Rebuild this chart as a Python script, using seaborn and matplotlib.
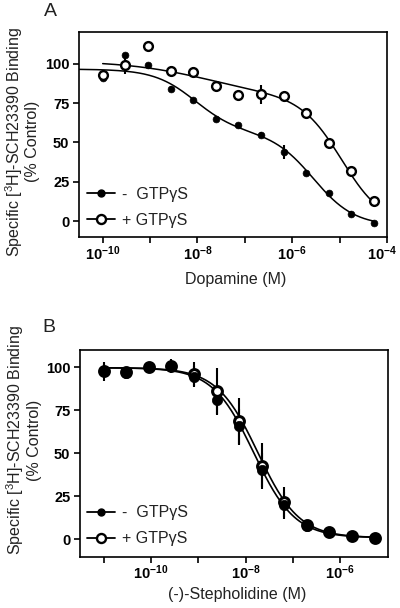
import numpy as np
import pandas as pd
import matplotlib
matplotlib.use("Agg")
import matplotlib.pyplot as plt
import matplotlib.transforms as mtransforms
import seaborn as sns
from matplotlib.lines import Line2D

# ---------------- data ----------------
# Panel A: Dopamine competition
dopamine_M = [1e-10, 3e-10, 9e-10, 2.7e-9, 8.1e-9, 2.43e-8, 7.29e-8,
              2.187e-7, 6.561e-7, 1.968e-6, 5.905e-6, 1.771e-5, 5.314e-5]
a_minus = [91, 105.5, 99, 84, 77, 65, 61, 55, 44, 30.7, 17.8, 4.7, -1.3]
a_minus_err = [1.5, 1.5, 1.5, 1.5, 1.5, 1.5, 1.5, 1.5, 4.5, 1.5, 1.5, 1.5, 1.5]
a_plus = [93, 99.2, 111.4, 95.4, 94.9, 85.8, 80.3, 80.5, 79.7, 68.5, 49.7, 31.7, 13.1]
a_plus_err = [1.5, 5.5, 1.5, 3, 3, 2, 2, 6, 2, 2, 2, 2, 2]

# two-site fit parameters: top, bottom, fraction high, logIC high, nH high, logIC low, nH low
a_minus_fit = [96.5, -3.0, 0.40, -8.05, 1.0, -5.55, 1.0]
a_plus_fit = [101.7, -3.0, 0.22, -7.8, 0.5, -4.95, 1.0]
a_minus_range = [10 ** -10.5, 5.314e-5]
a_plus_range = [1e-10, 5.314e-5]

# Panel B: (-)-Stepholidine competition
steph_M = [1e-11, 3e-11, 9e-11, 2.7e-10, 8.1e-10, 2.43e-9, 7.29e-9,
           2.187e-8, 6.561e-8, 1.968e-7, 5.905e-7, 1.771e-6, 5.314e-6]
b_minus = [97.5, 96.5, 100, 100.5, 94.5, 81, 65.6, 40.3, 19.8, 8, 4.2, 1.8, 1]
b_minus_err = [5.8, 3.5, 3, 4, 6, 8, 10, 10, 8, 3, 2, 1.5, 1.5]
b_plus = [98, 97, 100.3, 100.7, 96, 86, 68.5, 42.6, 21.8, 8.3, 4.4, 1.9, 1]
b_plus_err = [4, 3, 3, 3, 7, 13.6, 13.6, 13.4, 8.8, 3, 2, 1.5, 1.5]

# one-site fit parameters: top, bottom, logIC50, nH
b_minus_fit = [99.7, 1.0, -7.83, 1.0]
b_plus_fit = [99.7, 1.0, -7.74, 1.0]
b_range = [1e-11, 5.314e-6]

series_labels = ["-  GTP\u03b3S", "+ GTP\u03b3S"]
yticks = [0, 25, 50, 75, 100]

# ---------------- style ----------------
sns.set_theme(style="ticks")
plt.rcParams["font.family"] = ["Liberation Sans", "DejaVu Sans"]
plt.rcParams["mathtext.fontset"] = "custom"
plt.rcParams["mathtext.rm"] = "Liberation Sans"
plt.rcParams["mathtext.bf"] = "Liberation Sans:bold"
plt.rcParams["mathtext.it"] = "Liberation Sans:italic"
plt.rcParams["axes.linewidth"] = 1.2
plt.rcParams["xtick.major.width"] = 1.2
plt.rcParams["ytick.major.width"] = 1.2
plt.rcParams["xtick.major.size"] = 4
plt.rcParams["ytick.major.size"] = 4
plt.rcParams["xtick.direction"] = "out"
plt.rcParams["ytick.direction"] = "out"


def two_site(x, p):
    top, bot, f, ic1, n1, ic2, n2 = p
    lx = np.log10(x)
    return bot + (top - bot) * (f / (1 + 10 ** (n1 * (lx - ic1))) +
                                (1 - f) / (1 + 10 ** (n2 * (lx - ic2))))


def one_site(x, p):
    top, bot, ic, n = p
    lx = np.log10(x)
    return bot + (top - bot) / (1 + 10 ** (n * (lx - ic)))


fig = plt.figure(figsize=(4.0, 6.08), dpi=100)
axA = fig.add_axes([0.1975, 0.6102, 0.77, 0.337])
axB = fig.add_axes([0.2, 0.0844, 0.769, 0.34])


def draw_panel(ax, xs, minus, minus_err, plus, plus_err, fminus, fplus,
               rminus, rplus, model, lw, s_fill, s_open, open_lw, fill_top):
    xm = np.logspace(np.log10(rminus[0]), np.log10(rminus[1]), 300)
    xp = np.logspace(np.log10(rplus[0]), np.log10(rplus[1]), 300)
    sns.lineplot(x=xm, y=model(xm, fminus), ax=ax, color="black", lw=lw,
                 estimator=None, sort=False, zorder=2)
    sns.lineplot(x=xp, y=model(xp, fplus), ax=ax, color="black", lw=lw,
                 estimator=None, sort=False, zorder=2)
    ax.errorbar(xs, plus, yerr=plus_err, fmt="none", ecolor="black",
                elinewidth=1.5, capsize=0, zorder=3)
    ax.errorbar(xs, minus, yerr=minus_err, fmt="none", ecolor="black",
                elinewidth=1.5, capsize=0, zorder=3)
    zf, zo = (6, 5) if fill_top else (5, 6)
    sns.scatterplot(x=xs, y=plus, ax=ax, color="white", edgecolor="black",
                    linewidth=open_lw, s=s_open, zorder=zo, legend=False)
    sns.scatterplot(x=xs, y=minus, ax=ax, color="black", edgecolor="black",
                    linewidth=0.5, s=s_fill, zorder=zf, legend=False)
    ax.set_xscale("log")


draw_panel(axA, dopamine_M, a_minus, a_minus_err, a_plus, a_plus_err,
           a_minus_fit, a_plus_fit, a_minus_range, a_plus_range, two_site,
           1.1, 24, 40, 1.7, False)
draw_panel(axB, steph_M, b_minus, b_minus_err, b_plus, b_plus_err,
           b_minus_fit, b_plus_fit, b_range, b_range, one_site,
           1.2, 55, 50, 2.2, True)


def decorate(ax, xlim, ylim, dec, label_dec, xlabel, ylabel_y, xlabel_y, leg_y, leg_x):
    ax.set_xlim(*xlim)
    ax.set_ylim(*ylim)
    ticks = [10.0 ** d for d in dec]
    ax.set_xticks(ticks)
    ax.set_xticklabels([""] * len(ticks))
    ax.xaxis.set_minor_locator(matplotlib.ticker.NullLocator())
    # x tick labels as text at each labelled decade
    trans = mtransforms.blended_transform_factory(ax.transData, ax.transAxes)
    for d in label_dec:
        shift = -5 if 10.0 ** d >= xlim[1] * 0.999 else 0
        t = trans + mtransforms.ScaledTranslation(shift / 100, -7 / 100, fig.dpi_scale_trans)
        ax.text(10.0 ** d, 0, r"$\mathbf{10^{%d}}$" % d, transform=t,
                ha="center", va="top", fontsize=10.5, color="black")
    ax.set_yticks(yticks)
    ax.set_yticklabels([str(v) for v in yticks], fontsize=10.5, fontweight="bold")
    ax.tick_params(axis="both", colors="black", pad=3)
    for sp in ax.spines.values():
        sp.set_visible(True)
        sp.set_color("black")
    ax.set_xlabel(xlabel, fontsize=11.5, color="#222222")
    ax.set_ylabel("Specific [$^{3}$H]-SCH23390 Binding\n(% Control)",
                  fontsize=11.5, color="#222222", linespacing=1.05)
    ax.yaxis.set_label_coords(-0.125, ylabel_y)
    ax.xaxis.set_label_coords(0.51, xlabel_y)
    handles = [
        Line2D([0], [0], color="black", lw=1.3, marker="o", markersize=5,
               markerfacecolor="black", markeredgecolor="black"),
        Line2D([0], [0], color="black", lw=1.3, marker="o", markersize=6.5,
               markerfacecolor="white", markeredgecolor="black", markeredgewidth=1.7),
    ]
    ax.legend(handles, series_labels, loc="lower left",
              bbox_to_anchor=(leg_x, leg_y), frameon=False, fontsize=11.5,
              handlelength=1.75, handletextpad=0.45, labelspacing=0.7,
              borderpad=0, borderaxespad=0, labelcolor="#222222")


decorate(axA, (10 ** -10.5, 1e-4), (-10, 120), list(range(-10, -3)),
         [-10, -8, -6, -4], "Dopamine (M)", 0.465, -0.17, 0.045, 0.026)
decorate(axB, (10 ** -11.5, 1e-5), (-10, 110), list(range(-11, -5)),
         [-10, -8, -6], "(-)-Stepholidine (M)", 0.565, -0.145, 0.05, 0.023)

fig.text(50 / 400, 1 - 12 / 608, "A", fontsize=14, ha="center", va="center",
         color="#222222")
fig.text(49 / 400, 1 - 328 / 608, "B", fontsize=14, ha="center", va="center",
         color="#222222")

fig.savefig("out.png", dpi=100)
